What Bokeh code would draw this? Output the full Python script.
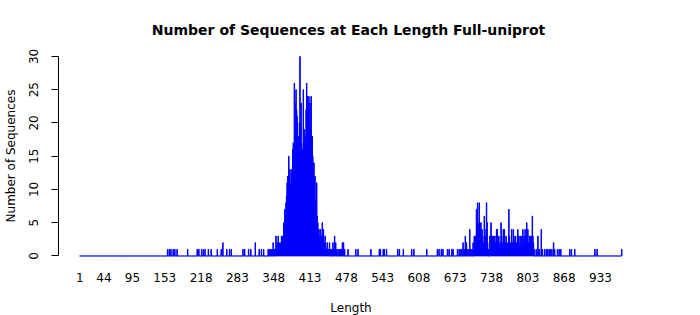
import numpy as np
from bokeh.plotting import figure
from bokeh.models import FixedTicker, ColumnDataSource, Range1d
from bokeh.embed import file_html
from bokeh.resources import INLINE

title_text = "Number of Sequences at Each Length  Full-uniprot"
x_label = "Length"
y_label = "Number of Sequences"

max_length = 971

# sparse short sequences
early_lengths = [158, 161, 164, 168, 171, 175, 194, 211, 214, 219, 222, 225, 231, 236,
                 247, 254, 257, 264, 269, 272, 293, 296, 303, 307, 315, 322, 326, 330]
early_counts = [1, 1, 1, 1, 1, 1, 1, 1, 1, 1, 1, 1, 1, 1,
                1, 1, 2, 1, 1, 1, 1, 1, 1, 1, 2, 1, 1, 1]

# main cluster, contiguous lengths starting at main_start
main_start = 338
main_counts = [
    1, 0, 0, 1, 0, 1, 0, 1, 0, 2,
    0, 1, 1, 0, 3, 1, 2, 1, 3, 2,
    1, 2, 1, 2, 3, 2, 3, 3, 5, 4,
    7, 6, 8, 9, 11, 12, 10, 15, 12, 13,
    10, 11, 13, 12, 16, 17, 14, 26, 23, 19,
    25, 22, 21, 16, 18, 16, 20, 30, 19, 23,
    17, 15, 16, 25, 16, 19, 18, 16, 22, 26,
    24, 21, 22, 24, 20, 23, 19, 24, 18, 18,
    15, 14, 14, 9, 12, 8, 7, 11, 6, 5,
    4, 4, 3, 2, 4, 2, 3, 5, 4, 4,
    2, 1, 3, 2, 1, 0, 2, 1, 1, 0,
    2, 0, 1, 0, 1, 0, 2, 1, 0, 3,
    1, 2, 1, 0, 0, 1, 0, 1, 0, 1,
    0, 1, 0, 2, 0, 2, 0, 1, 0, 0,
    0, 0, 0, 1,
]

# sparse middle lengths
mid_lengths = [495, 499, 522, 537, 539, 544, 546, 550, 570, 573,
               580, 595, 599, 622, 641, 644, 648, 651, 659, 662]
mid_counts = [1, 1, 1, 1, 1, 1, 1, 1, 1, 1,
              1, 1, 1, 1, 1, 1, 1, 1, 1, 1]

# second cluster, contiguous lengths starting at second_start
second_start = 666
second_counts = [
    0, 1, 0, 1, 0, 0, 0, 0, 0, 0,
    0, 1, 0, 0, 1, 0, 0, 1, 0, 1,
    0, 2, 0, 1, 0, 3, 0, 2, 1, 0,
    1, 0, 0, 4, 0, 1, 0, 1, 0, 2,
    0, 3, 1, 3, 2, 7, 5, 8, 5, 3,
    8, 5, 4, 5, 2, 4, 3, 2, 1, 6,
    4, 3, 1, 8, 5, 2, 0, 1, 0, 3,
    1, 5, 3, 2, 3, 2, 3, 1, 3, 2,
    1, 4, 4, 2, 1, 3, 1, 2, 1, 5,
    3, 2, 1, 4, 2, 4, 2, 1, 3, 1,
    2, 1, 1, 7, 3, 2, 1, 2, 4, 2,
    1, 4, 3, 2, 1, 3, 2, 1, 2, 4,
    3, 2, 1, 3, 1, 3, 2, 1, 4, 2,
    3, 1, 4, 2, 3, 5, 2, 4, 2, 1,
    3, 3, 2, 1, 3, 6, 3, 2, 0, 1,
    0, 0, 1, 0, 0, 3, 1, 0, 1, 0,
    0, 4, 0, 1, 0, 0, 0, 1, 0, 0,
    1, 0, 1, 0, 0, 1, 0, 1, 0, 0,
    1, 0, 0, 2, 0, 1,
]

# sparse long tail
tail_lengths = [856, 859, 862, 878, 881, 887, 923, 927, 971]
tail_counts = [1, 1, 1, 1, 1, 1, 1, 1, 1]

x_tick_values = [1, 44, 95, 153, 218, 283, 348, 413, 478, 543, 608, 673, 738, 803, 868, 933]
y_tick_values = [0, 5, 10, 15, 20, 25, 30]

# assemble full table of counts (lengths without sequences have 0)
lengths = np.arange(1, max_length + 1)
counts = np.zeros(max_length, dtype=int)
counts[np.array(early_lengths) - 1] = early_counts
counts[main_start - 1: main_start - 1 + len(main_counts)] = main_counts
counts[np.array(mid_lengths) - 1] = mid_counts
counts[second_start - 1: second_start - 1 + len(second_counts)] = second_counts
counts[np.array(tail_lengths) - 1] = tail_counts

source = ColumnDataSource(dict(length=lengths, count=counts))

FONT = "DejaVu Sans"

p = figure(
    frame_width=585, frame_height=215,
    min_border_left=57, min_border_right=58, min_border_top=48, min_border_bottom=52,
    x_range=Range1d(-37.3, 1010), y_range=Range1d(-1.13, 31.2),
    output_backend="svg", toolbar_location=None, title=title_text,
)
p.background_fill_color = "white"
p.border_fill_color = "white"
p.outline_line_color = None
p.grid.grid_line_color = None

p.vbar(x="length", top="count", bottom=0, width=0.833, source=source,
       fill_color="#0000FF", line_color="#0000FF", line_width=1)

p.title.text_font = FONT
p.title.text_font_size = "14px"
p.title.text_font_style = "bold"
p.title.align = "center"
p.title.text_color = "black"
p.title.standoff = 22

xa = p.xaxis[0]
xa.ticker = FixedTicker(ticks=x_tick_values)
xa.axis_line_color = None
xa.major_tick_line_color = None
xa.minor_tick_line_color = None
xa.major_tick_out = 0
xa.major_label_standoff = 9
xa.major_label_text_font = FONT
xa.major_label_text_font_size = "12px"
xa.major_label_text_color = "black"
xa.axis_label = x_label
xa.axis_label_text_font = FONT
xa.axis_label_text_font_size = "12px"
xa.axis_label_text_font_style = "normal"
xa.axis_label_text_color = "black"
xa.axis_label_standoff = 16

ya = p.yaxis[0]
ya.ticker = FixedTicker(ticks=y_tick_values)
ya.bounds = (0, 30)
ya.axis_line_color = "black"
ya.axis_line_width = 1
ya.major_tick_line_color = "black"
ya.major_tick_out = 7
ya.major_tick_in = 0
ya.minor_tick_line_color = None
ya.major_label_orientation = "parallel"
ya.major_label_standoff = 13
ya.major_label_text_font = FONT
ya.major_label_text_font_size = "12px"
ya.major_label_text_color = "black"
ya.axis_label = y_label
ya.axis_label_text_font = FONT
ya.axis_label_text_font_size = "12px"
ya.axis_label_text_font_style = "normal"
ya.axis_label_text_color = "black"
ya.axis_label_standoff = 9

open("out.html", "w").write(file_html(p, INLINE))
